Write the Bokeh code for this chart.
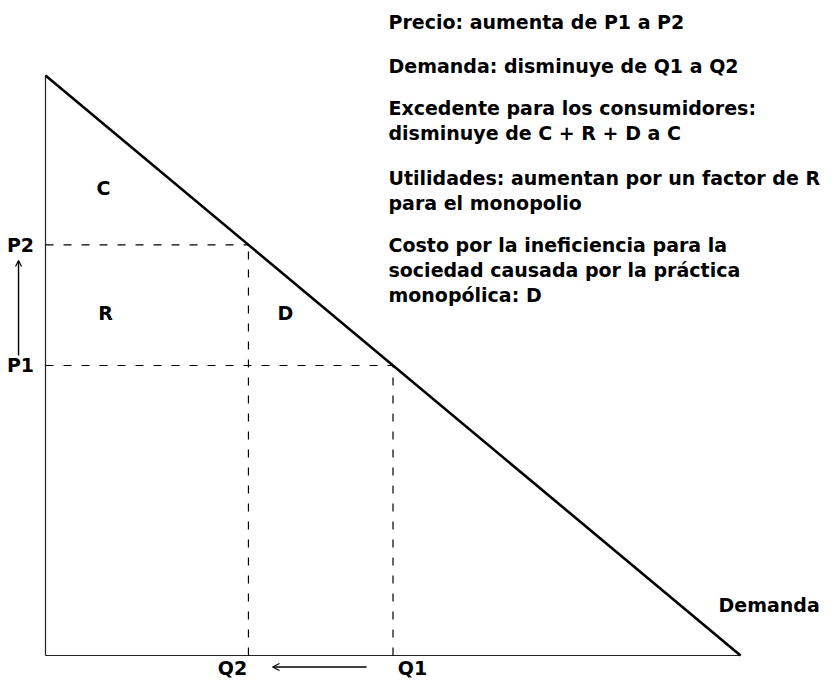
from bokeh.plotting import figure
from bokeh.models import Range1d, Arrow, OpenHead
from bokeh.core.properties import value
from bokeh.embed import file_html
from bokeh.resources import INLINE

# ---- data ----
demand_q = [0.0, 10.0]
demand_p = [10.0, 0.0]
Q2, Q1 = 2.92, 5.0
P2, P1 = 7.08, 5.0

info_lines = [
    "Precio: aumenta de P1 a P2",
    "Demanda: disminuye de Q1 a Q2",
    "Excedente para los consumidores:",
    "disminuye de C + R + D a C",
    "Utilidades: aumentan por un factor de R",
    "para el monopolio",
    "Costo por la ineficiencia para la",
    "sociedad causada por la práctica",
    "monopólica: D",
]
info_y = [10.914, 10.172, 9.448, 9.017, 8.241, 7.793, 7.086, 6.655, 6.207]

area_labels = ["C", "R", "D"]
area_x = [0.835, 0.863, 3.453]
area_y = [8.052, 5.897, 5.897]

FONT = value("DejaVu Sans")
FS = "19px"

p = figure(width=823, height=679, output_backend="svg", toolbar_location=None,
           x_range=Range1d(-0.6475, 11.194), y_range=Range1d(-0.414, 11.293),
           x_axis_type=None, y_axis_type=None, min_border=0)
p.outline_line_color = None
p.xgrid.visible = False
p.ygrid.visible = False
p.background_fill_color = "white"
p.border_fill_color = "white"

# axes
p.line(x=[0, 0], y=[0, demand_p[0]], line_color="#222222", line_width=1.2)
p.line(x=[0, demand_q[1]], y=[0, 0], line_color="#222222", line_width=1.2)

# dashed guides
dash = "8 10"
p.line(x=[0, Q2], y=[P2, P2], line_color="black", line_width=1.2, line_dash=dash)
p.line(x=[Q2, Q2], y=[0, P2], line_color="black", line_width=1.2, line_dash=dash)
p.line(x=[0, Q1], y=[P1, P1], line_color="black", line_width=1.2, line_dash=dash)
p.line(x=[Q1, Q1], y=[0, P1], line_color="black", line_width=1.2, line_dash=dash)

# demand curve
p.line(x=demand_q, y=demand_p, line_color="black", line_width=2.6)

# area labels
p.text(x=area_x, y=area_y, text=area_labels, text_font=FONT, text_font_style="bold",
       text_font_size=FS, text_align="center", text_baseline="middle", text_color="black")

# price labels
p.text(x=[-0.36, -0.36], y=[P2, P1], text=["P2", "P1"], text_font=FONT,
       text_font_style="bold", text_font_size=FS, text_align="center",
       text_baseline="middle", text_color="black")

# quantity labels
p.text(x=[2.69, 5.28], y=[-0.397, -0.397], text=["Q2", "Q1"], text_font=FONT,
       text_font_style="bold", text_font_size=FS, text_align="center",
       text_baseline="bottom", text_color="black")

# demand label
p.text(x=[9.683], y=[0.862], text=["Demanda"], text_font=FONT, text_font_style="bold",
       text_font_size=FS, text_align="left", text_baseline="middle", text_color="black")

# explanation block
p.text(x=[4.935] * len(info_lines), y=info_y, text=info_lines, text_font=FONT,
       text_font_style="bold", text_font_size=FS, text_align="left",
       text_baseline="middle", text_color="black")

# arrows
p.add_layout(Arrow(end=OpenHead(size=6, line_width=1.2, line_color="black"),
                   x_start=-0.388, y_start=5.172, x_end=-0.388, y_end=6.810,
                   line_width=1.4, line_color="black"))
p.add_layout(Arrow(end=OpenHead(size=7, line_width=1.2, line_color="black"),
                   x_start=4.619, y_start=-0.198, x_end=3.266, y_end=-0.198,
                   line_width=1.4, line_color="black"))

open("out.html", "w").write(file_html(p, INLINE))
